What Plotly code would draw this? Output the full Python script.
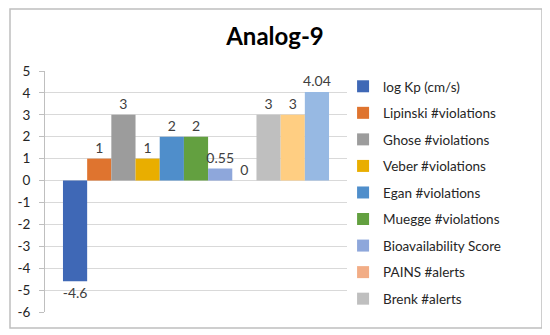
import plotly.graph_objects as go

title = "Analog-9"
series_names = [
    "log Kp (cm/s)", "Lipinski #violations", "Ghose #violations", "Veber #violations",
    "Egan #violations", "Muegge #violations", "Bioavailability Score", "PAINS #alerts",
    "Brenk #alerts", "Leadlikeness #violations", "Synthetic accessibility",
]
values = [-4.6, 1, 3, 1, 2, 2, 0.55, 0, 3, 3, 4.04]
value_labels = ["-4.6", "1", "3", "1", "2", "2", "0.55", "0", "3", "3", "4.04"]
in_legend = [True] * 9 + [False, False]
colors = ["#3F68B6", "#DF742F", "#9C9C9C", "#E9AE00", "#4F8ECB", "#63A040",
          "#8EA7DB", "#F2AD86", "#BFBFBF", "#FFCE82", "#97B9E3"]
y_ticks = list(range(-6, 6))

FONT = "Lato"
# page has an 8px body margin: figure is sized to fill the rest of the window
W, H = 542, 327
L, R, T, B = 37, 203, 63, 23
PW, PH = W - L - R, H - T - B

fig = go.Figure()
for name, v, lab, c, show in zip(series_names, values, value_labels, colors, in_legend):
    fig.add_trace(go.Bar(
        x=[""], y=[v], name=name, marker=dict(color=c, line=dict(width=0)),
        text=[lab], textposition="outside", constraintext="none", cliponaxis=False,
        textfont=dict(family=FONT, size=14, color="#404040"),
        showlegend=show, legendgroup=name,
    ))

fig.update_layout(
    width=W, height=H,
    margin=dict(l=L, r=R, t=T, b=B, autoexpand=False),
    paper_bgcolor="white", plot_bgcolor="white",
    barmode="group", bargap=0.119, bargroupgap=0,
    title=dict(text="<b>" + title + "</b>", x=267 / W, xref="container", xanchor="center",
               y=1 - 29 / H, yanchor="middle",
               font=dict(family=FONT, size=24, color="#000000")),
    legend=dict(x=0.987, xanchor="left", y=1.0, yanchor="top",
                font=dict(family=FONT, size=13.5, color="#262626"),
                tracegroupgap=6, bgcolor="rgba(0,0,0,0)", itemclick=False,
                maxheight=310),
    xaxis=dict(showticklabels=False, showgrid=False, zeroline=False, showline=False, ticks=""),
    yaxis=dict(range=[-6, 5], tickvals=y_ticks, ticktext=[str(t) for t in y_ticks],
               showgrid=True, gridcolor="#D9D9D9", gridwidth=1,
               zeroline=True, zerolinecolor="#D9D9D9", zerolinewidth=1,
               showline=True, linecolor="#BFBFBF", linewidth=1,
               ticks="outside", ticklen=5, tickcolor="#BFBFBF",
               ticklabelstandoff=6,
               tickfont=dict(family=FONT, size=13.5, color="#262626")),
    shapes=[dict(type="rect", xref="paper", yref="paper",
                 x0=(2 - L) / PW, x1=(534 - L) / PW,
                 y0=(H - B - 320) / PH, y1=(H - B - 1) / PH,
                 line=dict(color="#BFBFBF", width=1.5), fillcolor="rgba(0,0,0,0)",
                 layer="below")],
)
fig.write_html("out.html")
